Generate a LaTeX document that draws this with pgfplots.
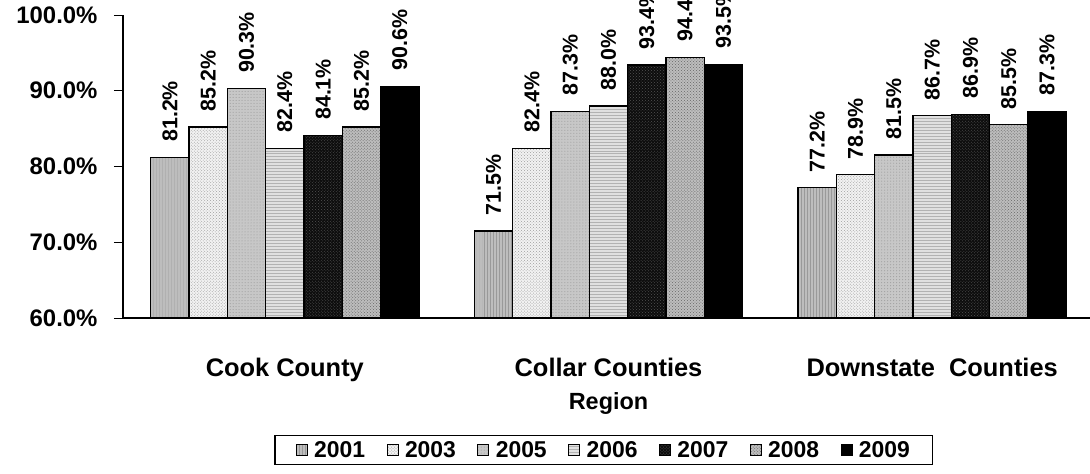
\documentclass[border=0pt]{standalone}
\usepackage{pgfplots}
\pgfplotsset{compat=1.18}
\usepackage{fontspec}
\setmainfont{Liberation Sans}
\usetikzlibrary{patterns}

\definecolor{fA}{gray}{0.74}
\definecolor{fB}{gray}{0.95}
\definecolor{fC}{gray}{0.78}
\definecolor{fD}{gray}{0.88}
\definecolor{fE}{gray}{0.05}
\definecolor{fF}{gray}{0.74}
\definecolor{pA}{gray}{0.60}
\definecolor{pB}{gray}{0.62}
\definecolor{pC}{gray}{0.58}
\definecolor{pD}{gray}{0.70}
\definecolor{pE}{gray}{0.32}
\definecolor{pF}{gray}{0.40}

\pgfplotstableread{
region y2001 y2003 y2005 y2006 y2007 y2008 y2009
0 81.2 85.2 90.3 82.4 84.1 85.2 90.6
1 71.5 82.4 87.3 88.0 93.4 94.4 93.5
2 77.2 78.9 81.5 86.7 86.9 85.5 87.3
}\rates

\begin{document}
\begin{tikzpicture}
\begin{axis}[
  scale only axis,
  width=971bp, height=303bp,
  ybar=0pt, bar width=38.3bp,
  xmin=-0.5, xmax=2.5, ymin=60, ymax=100,
  clip=false,
  axis lines*=left,
  axis line style={line width=1.3bp},
  xtick={0,1,2},
  xticklabels={Cook County, Collar Counties, Downstate~ Counties},
  x tick style={draw=none},
  extra x ticks={-0.5,0.5,1.5,2.5},
  extra x tick labels={},
  extra x tick style={tick style={draw=black, line width=1bp}, major tick length=9bp},
  tick align=outside,
  ytick={60,70,80,90,100},
  y tick style={line width=1bp, black},
  major tick length=9bp,
  yticklabel={\pgfmathprintnumber[fixed,fixed zerofill,precision=1]{\tick}\%},
  /pgf/number format/assume math mode=true,
  yticklabel style={font=\fontsize{24}{28}\selectfont\bfseries, anchor=east, xshift=-13bp},
  xticklabel style={font=\fontsize{25.5}{30}\selectfont\bfseries, anchor=base, yshift=-49bp},
  xlabel={Region},
  xlabel style={font=\fontsize{23.5}{28}\selectfont\bfseries, at={(rel axis cs:0.5,0)}, anchor=base, yshift=-91bp},
  point meta=y,
  nodes near coords={\pgfmathprintnumber[fixed,fixed zerofill,precision=1]{\pgfplotspointmeta}\%},
  nodes near coords style={rotate=90, anchor=west, inner xsep=15bp, inner ysep=0pt,
    font=\fontsize{21.5}{25}\selectfont\bfseries, black},
  legend columns=7,
  legend image code/.code={\draw[#1, line width=0.8bp] (0bp,-5.5bp) rectangle (11bp,5.5bp);},
  legend style={at={(0.495,0)}, anchor=center, yshift=-132bp, draw=black, line width=1.5bp,
    font=\fontsize{23}{27}\selectfont\bfseries, inner xsep=21bp, inner ysep=4bp,
    nodes={inner xsep=1.5bp},
    /tikz/every odd column/.append style={column sep=5bp},
    /tikz/every even column/.append style={column sep=20bp}},
  every axis plot/.append style={draw=black, line width=1.3bp},
]
\addplot[fill=fA, postaction={pattern=vertical lines, pattern color=pA}] table[x=region, y=y2001] {\rates};
\addplot[fill=fB, postaction={pattern=crosshatch dots, pattern color=pB}] table[x=region, y=y2003] {\rates};
\addplot[fill=fC, postaction={pattern=dots, pattern color=pC}] table[x=region, y=y2005] {\rates};
\addplot[fill=fD, postaction={pattern=horizontal lines, pattern color=pD}] table[x=region, y=y2006] {\rates};
\addplot[fill=fE, postaction={pattern=crosshatch dots, pattern color=pE}] table[x=region, y=y2007] {\rates};
\addplot[fill=fF, postaction={pattern=crosshatch dots, pattern color=pF}] table[x=region, y=y2008] {\rates};
\addplot[fill=black] table[x=region, y=y2009] {\rates};
\legend{2001,2003,2005,2006,2007,2008,2009}
\end{axis}
\pgfresetboundingbox
\path[use as bounding box] (-123bp,-156bp) rectangle (967bp,318bp);
\end{tikzpicture}
\end{document}
